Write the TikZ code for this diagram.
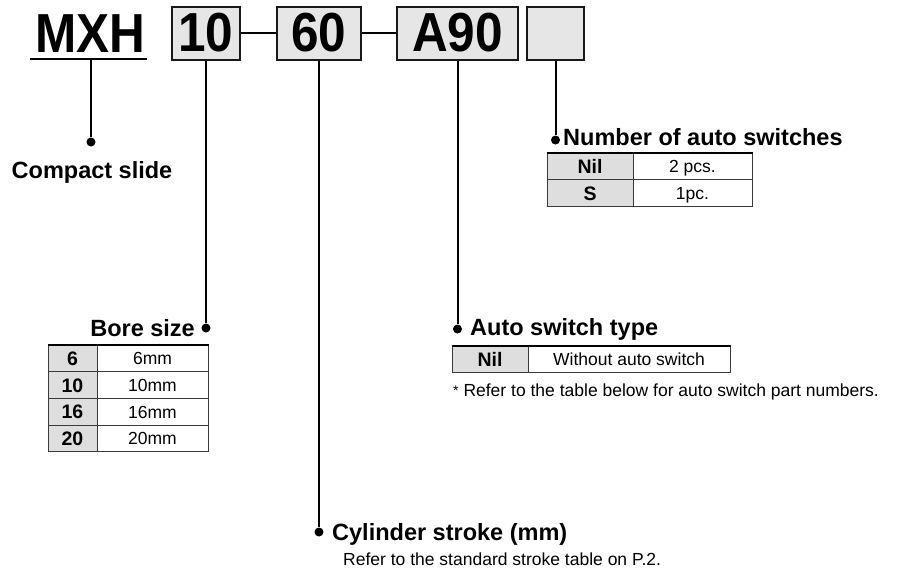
\documentclass[tikz,border=0pt]{standalone}
\usepackage{fontspec}
\setmainfont{Liberation Sans}
\newfontfamily\codefont[FakeStretch=0.9]{Liberation Sans Bold}
\usepackage{xcolor}
\usepackage{tikz}
\definecolor{boxgray}{HTML}{E6E6E6}
\definecolor{keygray}{HTML}{DEDEDE}
\definecolor{rulegray}{HTML}{3A3A3A}
\tikzstyle{code}=[inner sep=0pt, font=\codefont\fontsize{55}{55}\selectfont]
\tikzstyle{code box}=[style=code, fill=boxgray, draw=black!90, line width=2pt, minimum height=53pt]
\tikzstyle{dot}=[fill=black, draw=none, shape=circle, inner sep=0pt, minimum size=9pt]
\tikzstyle{heading}=[inner sep=0pt, font=\bfseries\fontsize{23.5}{23.5}\selectfont]
\tikzstyle{note}=[inner sep=0pt, font=\fontsize{17.5}{17.5}\selectfont]
\tikzstyle{key cell}=[fill=keygray, draw=rulegray, line width=1pt, inner sep=0pt, minimum height=26.75pt, text height=14pt, text depth=0pt, font=\bfseries\fontsize{19.5}{19.5}\selectfont]
\tikzstyle{value cell}=[fill=white, draw=rulegray, line width=1pt, inner sep=0pt, minimum height=26.75pt, text height=12.5pt, text depth=0pt, font=\fontsize{17.5}{17.5}\selectfont]
\tikzstyle{leader}=[-, draw=black, line width=2pt]
\tikzstyle{top rule}=[-, draw=black, line width=2pt]
\pgfdeclarelayer{nodelayer}
\pgfdeclarelayer{edgelayer}
\pgfsetlayers{nodelayer,edgelayer,main}

\begin{document}
\begin{tikzpicture}[x=1pt, y=-1pt]
	\useasboundingbox (0, 0) rectangle (904, 576);
	\begin{pgfonlayer}{nodelayer}
		\node [style=code, anchor=base] (0) at (90.5, 52) {MXH};
		\node [style=code box, minimum width=68pt] (1) at (206, 33) {10};
		\node [style=code box, minimum width=84pt] (2) at (319, 33) {60};
		\node [style=code box, minimum width=121pt] (3) at (457.5, 33) {A90};
		\node [style=code box, minimum width=57pt] (4) at (555.5, 33) {};
		\coordinate (5) at (30, 59);
		\coordinate (6) at (147, 59);
		\coordinate (7) at (91, 59);
		\node [style=dot] (8) at (91, 142) {};
		\node [style=dot] (9) at (206, 328) {};
		\node [style=dot] (10) at (319, 532) {};
		\node [style=dot] (11) at (457.5, 329) {};
		\node [style=dot] (12) at (555.5, 140) {};
		\node [style=heading, anchor=base] (13) at (92, 178) {Compact slide};
		\node [style=heading, anchor=base east] (14) at (195, 336) {Bore size};
		\node [style=heading, anchor=base west] (15) at (332, 540) {Cylinder stroke (mm)};
		\node [style=note, anchor=base west] (16) at (343, 565) {Refer to the standard stroke table on P.2.};
		\node [style=heading, anchor=base west] (17) at (470, 335) {Auto switch type};
		\node [style=note, anchor=base west] (18) at (453, 396) {\raisebox{0.02ex}{\fontsize{14}{14}\selectfont *} Refer to the table below for auto switch part numbers.};
		\node [style=heading, anchor=base west] (19) at (563, 145) {Number of auto switches};
		\node [style=key cell, minimum width=49pt] (20) at (72.5, 358.4) {6};
		\node [style=value cell, minimum width=111pt] (21) at (152.5, 358.4) {6mm};
		\node [style=key cell, minimum width=49pt] (22) at (72.5, 385.1) {10};
		\node [style=value cell, minimum width=111pt] (23) at (152.5, 385.1) {10mm};
		\node [style=key cell, minimum width=49pt] (24) at (72.5, 411.9) {16};
		\node [style=value cell, minimum width=111pt] (25) at (152.5, 411.9) {16mm};
		\node [style=key cell, minimum width=49pt] (26) at (72.5, 438.6) {20};
		\node [style=value cell, minimum width=111pt] (27) at (152.5, 438.6) {20mm};
		\node [style=key cell, minimum width=76pt] (28) at (490, 359.4) {Nil};
		\node [style=value cell, minimum width=202pt] (29) at (629, 359.4) {Without auto switch};
		\node [style=key cell, minimum width=86pt] (30) at (590, 166.4) {Nil};
		\node [style=value cell, minimum width=119pt] (31) at (692.5, 166.4) {2 pcs.};
		\node [style=key cell, minimum width=86pt] (32) at (590, 193.1) {S};
		\node [style=value cell, minimum width=119pt] (33) at (692.5, 193.1) {1pc.};
	\end{pgfonlayer}
	\begin{pgfonlayer}{edgelayer}
		\draw [style=leader] (5) to (6);
		\draw [style=leader] (1) to (2);
		\draw [style=leader] (2) to (3);
		\draw [style=leader] (7) to (8);
		\draw [style=leader] (1) to (9);
		\draw [style=leader] (2) to (10);
		\draw [style=leader] (3) to (11);
		\draw [style=leader] (4) to (12);
		\draw [style=top rule] (20.north west) to (21.north east);
		\draw [style=top rule] (28.north west) to (29.north east);
		\draw [style=top rule] (30.north west) to (31.north east);
	\end{pgfonlayer}
\end{tikzpicture}
\end{document}
